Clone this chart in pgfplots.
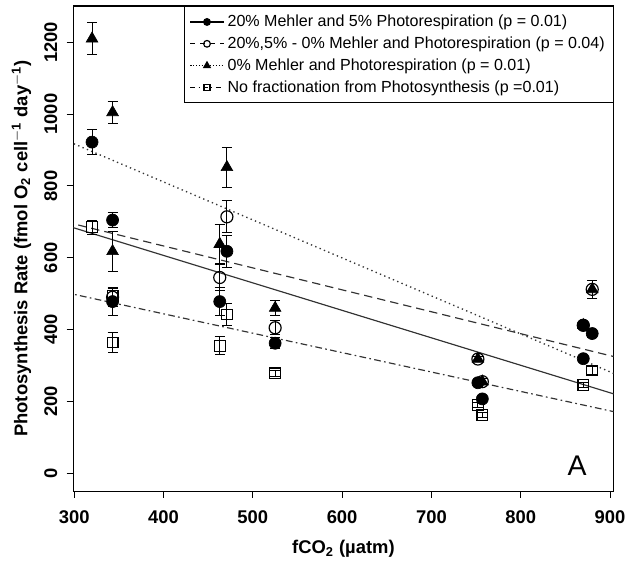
\documentclass[border=0pt]{standalone}
\usepackage{fontspec}
\setmainfont{Liberation Sans}
\usepackage{pgfplots}
\pgfplotsset{compat=1.18}
\begin{document}
\begin{tikzpicture}
\begin{axis}[
  width=323pt, height=290pt, scale only axis,
  xmin=299, xmax=904, ymin=-50, ymax=1301,
  xtick={300,400,...,900}, ytick={0,200,...,1200},
  xtick pos=bottom, ytick pos=left,
  tick align=outside, major tick length=4pt,
  tick style={black, line width=0.6pt},
  axis line style={black, line width=0.8pt},
  /pgf/number format/assume math mode=true,
  /pgf/number format/1000 sep={},
  ticklabel style={font=\fontsize{11}{13}\selectfont\bfseries},
  yticklabel style={rotate=90, anchor=south},
  xticklabel shift=4pt, yticklabel shift=2pt,
  xlabel={\bfseries fCO$_\mathbf{2}$ (µatm)},
  ylabel={\bfseries Photosynthesis Rate (fmol O$_\mathbf{2}$ cell$^{\mathbf{-1}}$ day$^{\mathbf{-1}}$)},
  label style={font=\fontsize{11}{13}\selectfont},
  xlabel shift=3pt, ylabel shift=1pt,
  legend style={at={(1,1)}, anchor=north east, draw=black, line width=0.6pt,
    font=\fontsize{9.6}{11}\selectfont, row sep=0.6pt, inner sep=3pt},
  legend cell align=left,
  legend image code/.code={\draw[#1,mark repeat=2,mark phase=2] plot coordinates {(0cm,0cm)(0.35cm,0cm)(0.7cm,0cm)};},
  error bars/error bar style={black, line width=0.6pt},
  error bars/error mark options={rotate=90, mark size=3pt, black, line width=0.6pt},
]
% legend entries
\addlegendimage{black, solid, line width=0.7pt, mark=*, mark size=2pt}
\addlegendentry{20\% Mehler and 5\% Photorespiration (p = 0.01)}
\addlegendimage{black, dashed, line width=0.7pt, mark=o, mark size=2pt, mark options={solid}}
\addlegendentry{20\%,5\% - 0\% Mehler and Photorespiration (p = 0.04)}
\addlegendimage{black, densely dotted, line width=0.7pt, mark=triangle*, mark size=2.2pt, mark options={solid}}
\addlegendentry{0\% Mehler and Photorespiration (p = 0.01)}
\addlegendimage{black, dash dot, line width=0.7pt, mark=square, mark size=1.8pt, mark options={solid}}
\addlegendentry{No fractionation from Photosynthesis (p =0.01)}

% regression lines
\addplot[black!80, solid, line width=0.7pt, forget plot] coordinates {(290,690.7) (910,216.4)};
\addplot[black!80, dashed, dash pattern=on 5pt off 3pt, line width=0.7pt, forget plot] coordinates {(290,700.1) (910,321.3)};
\addplot[black!80, dotted, line width=0.8pt, forget plot] coordinates {(290,927.6) (910,271.6)};
\addplot[black!80, dash pattern=on 4pt off 2pt on 1pt off 2pt, line width=0.7pt, forget plot] coordinates {(290,503.4) (910,168.3)};

% squares: no fractionation
\addplot[only marks, mark=square, mark size=3.2pt, mark options={black, fill=white, line width=0.7pt}, forget plot,
  error bars/.cd, y dir=both, y explicit] coordinates {
  (320,685) +- (0,20)
  (343,495) +- (0,15)
  (343,364) +- (0,28)
  (463,355) +- (0,25)
  (471,442) +- (0,30)
  (525,278) +- (0,8)
  (752,190) +- (0,8)
  (757,162) +- (0,8)
  (870,246) +- (0,8)
  (880,286) +- (0,10)
};
% open circles
\addplot[only marks, mark=o, mark size=3.6pt, mark options={black, line width=0.7pt}, forget plot,
  error bars/.cd, y dir=both, y explicit] coordinates {
  (343,490) +- (0,25)
  (463,545) +- (0,35)
  (471,714) +- (0,45)
  (525,405) +- (0,20)
  (752,318) +- (0,8)
  (757,255) +- (0,8)
  (870,412) +- (0,8)
  (880,512) +- (0,25)
};
% triangles
\addplot[only marks, mark=triangle*, mark size=4pt, mark options={black, fill=black}, forget plot,
  error bars/.cd, y dir=both, y explicit] coordinates {
  (320,1210) +- (0,45)
  (343,1005) +- (0,30)
  (343,618) +- (0,55)
  (463,638) +- (0,55)
  (471,852) +- (0,55)
  (525,460) +- (0,20)
  (752,318) +- (0,8)
  (757,255) +- (0,8)
  (870,412) +- (0,8)
  (880,512) +- (0,25)
};
% filled circles
\addplot[only marks, mark=*, mark size=3.6pt, mark options={black, fill=black}, forget plot,
  error bars/.cd, y dir=both, y explicit] coordinates {
  (320,922) +- (0,35)
  (343,705) +- (0,20)
  (343,478) +- (0,40)
  (463,478) +- (0,38)
  (471,618) +- (0,45)
  (525,362) +- (0,15)
  (752,252) +- (0,10)
  (757,207) +- (0,10)
  (870,412) +- (0,8)
  (870,319) +- (0,6)
  (880,389) +- (0,12)
};
\node[font=\fontsize{17}{20}\selectfont] at (axis cs:863,22) {A};
\end{axis}
\path (current axis.south west) ++(0,-50pt);
\path (current axis.south west) ++(-43.8pt,0);
\path (current axis.north west) ++(0,3.6pt);
\end{tikzpicture}
\end{document}
